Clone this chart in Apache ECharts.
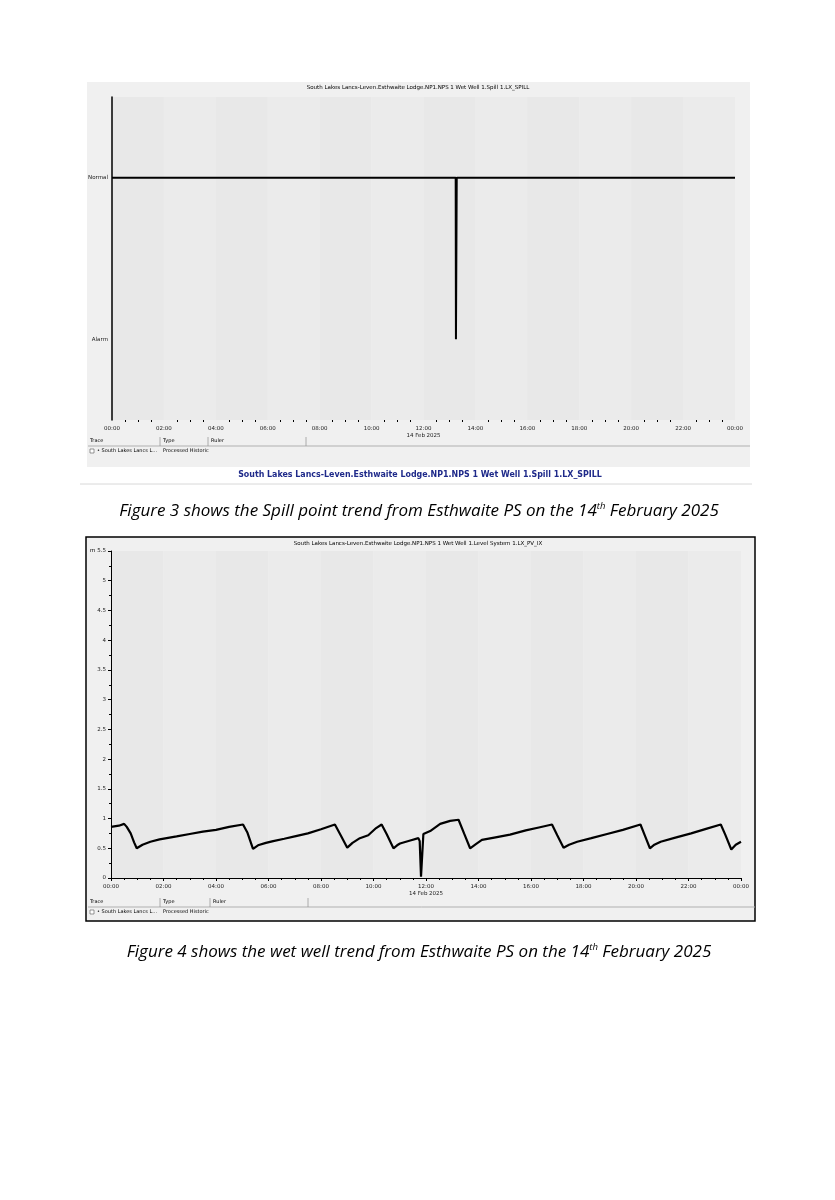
<!DOCTYPE html>
<html>
<head>
<meta charset="utf-8">
<script src="https://cdn.jsdelivr.net/npm/echarts@6/dist/echarts.min.js"></script>
<style>
  html, body { margin: 0; padding: 0; background: #fff; }
  #chart { width: 835px; height: 1200px; }
</style>
</head>
<body>
<div id="chart"></div>
<script>
// tick labels on the time axis (hours 0..24 every 2h)
const hourLabels = ['00:00', '02:00', '04:00', '06:00', '08:00', '10:00', '12:00',
                    '14:00', '16:00', '18:00', '20:00', '22:00', '00:00'];
const dateLabel = '14 Feb 2025';

// spill point states (hours, state)
const spillStates = ['Alarm', 'Normal'];
const spillTimes = [0, 13.24, 13.25, 13.27, 13.28, 24];
const spillValues = ['Normal', 'Normal', 'Alarm', 'Alarm', 'Normal', 'Normal'];

// wet well level (hours, m)
const levelTimes = [0, 0.3, 0.5, 0.6, 0.75, 0.88, 0.98, 1.2, 1.5, 1.85, 2.5, 3.0, 3.5, 4.0, 4.5, 5.03,
  5.2, 5.41, 5.6, 5.9, 6.18, 6.6, 7.0, 7.5, 8.0, 8.53,
  8.75, 9.0, 9.2, 9.48, 9.8, 10.1, 10.31,
  10.5, 10.76, 10.9, 11.01, 11.4, 11.71, 11.76, 11.81, 11.86, 11.9, 12.16, 12.54, 12.92, 13.24,
  13.45, 13.68, 13.9, 14.13, 14.6, 15.2, 15.8, 16.3, 16.8,
  17.0, 17.24, 17.45, 17.76, 18.3, 18.9, 19.5, 20.17,
  20.35, 20.53, 20.7, 20.94, 21.5, 22.1, 22.7, 23.23,
  23.4, 23.63, 23.8, 24];
const levelValues = [0.86, 0.88, 0.91, 0.86, 0.75, 0.6, 0.5, 0.56, 0.61, 0.65, 0.7, 0.74, 0.78, 0.81, 0.86, 0.9,
  0.76, 0.49, 0.55, 0.59, 0.62, 0.66, 0.7, 0.75, 0.82, 0.9,
  0.72, 0.51, 0.59, 0.67, 0.72, 0.84, 0.9,
  0.74, 0.5, 0.55, 0.58, 0.63, 0.67, 0.62, 0.02, 0.05, 0.74, 0.79, 0.91, 0.96, 0.98,
  0.75, 0.5, 0.57, 0.64, 0.68, 0.73, 0.8, 0.85, 0.9,
  0.72, 0.51, 0.56, 0.61, 0.67, 0.74, 0.81, 0.9,
  0.7, 0.5, 0.56, 0.61, 0.68, 0.75, 0.83, 0.9,
  0.73, 0.48, 0.56, 0.61];

const title3 = 'South Lakes Lancs-Leven.Esthwaite Lodge.NP1.NPS 1 Wet Well 1.Spill 1.LX_SPILL';
const title4 = 'South Lakes Lancs-Leven.Esthwaite Lodge.NP1.NPS 1 Wet Well 1.Level System 1.LX_PV_IX';

const chart = echarts.init(document.getElementById('chart'));

const tiny = { fontFamily: 'DejaVu Sans', fontSize: 5.5, color: '#222' };

function timeAxis(gridIndex) {
  return {
    type: 'value', gridIndex: gridIndex, min: 0, max: 24, interval: 2,
    axisLine: { lineStyle: { color: '#000', width: 1 } },
    axisTick: { length: 3, lineStyle: { color: '#000' } },
    minorTick: { show: true, splitNumber: 4, length: 2, lineStyle: { color: '#000' } },
    splitLine: { show: false },
    splitArea: { show: true, areaStyle: { color: ['#e8e8e8', '#ebebeb'] } },
    axisLabel: Object.assign({}, tiny, {
      margin: 5, lineHeight: 7,
      formatter: v => hourLabels[Math.round(v / 2)] + (v === 12 ? '\n' + dateLabel : '')
    })
  };
}

// table header of the trend viewer
function traceTable(y, seps, right) {
  const small = Object.assign({}, tiny, { fontSize: 5, verticalAlign: 'middle' });
  const els = [
    { type: 'line', shape: { x1: 88, y1: y + 5, x2: right, y2: y + 5 }, style: { stroke: '#b0b0b0', lineWidth: 1 } },
    { type: 'text', x: 90, y: y, style: Object.assign({ text: 'Trace' }, small) },
    { type: 'text', x: seps[0] + 3, y: y, style: Object.assign({ text: 'Type' }, small) },
    { type: 'text', x: seps[1] + 3, y: y, style: Object.assign({ text: 'Ruler' }, small) },
    { type: 'rect', shape: { x: 90, y: y + 8, width: 4, height: 4 }, style: { fill: '#fff', stroke: '#555', lineWidth: 0.6 } },
    { type: 'text', x: 97, y: y + 10, style: Object.assign({ text: '• South Lakes Lancs L...' }, small) },
    { type: 'text', x: seps[0] + 3, y: y + 10, style: Object.assign({ text: 'Processed Historic' }, small) }
  ];
  seps.forEach(sx => els.push({ type: 'line', shape: { x1: sx, y1: y - 4, x2: sx, y2: y + 5 }, style: { stroke: '#999', lineWidth: 0.8 } }));
  return els;
}

function caption(y, num, words) {
  return {
    type: 'text', x: 419, y: y,
    style: {
      text: '{a|Figure ' + num + ' shows the ' + words + ' from Esthwaite PS on the 14}{s|th}{a| February 2025}',
      align: 'center', verticalAlign: 'middle',
      rich: {
        a: { fontFamily: 'Open Sans', fontStyle: 'italic', fontSize: 17, fill: '#000' },
        s: { fontFamily: 'Open Sans', fontStyle: 'italic', fontSize: 9.5, fill: '#000', verticalAlign: 'top', padding: [0, 0, 9, 0] }
      }
    }
  };
}

const option = {
  backgroundColor: '#fff',
  animation: false,
  graphic: [
    // figure 3 panel
    { type: 'rect', z: -10, shape: { x: 87, y: 82, width: 663, height: 385 }, style: { fill: '#f0f0f0' } },
    { type: 'text', x: 418, y: 88, style: Object.assign({ text: title3, align: 'center', verticalAlign: 'middle' }, tiny) },
    ...traceTable(441, [160, 208, 306], 750),
    { type: 'text', x: 420, y: 475, style: { text: title3, align: 'center', verticalAlign: 'middle',
        fontFamily: 'DejaVu Sans Condensed', fontWeight: 'bold', fontSize: 8.8, fill: '#1f2a8a' } },
    { type: 'line', shape: { x1: 80, y1: 484, x2: 752, y2: 484 }, style: { stroke: '#d8d8d8', lineWidth: 1 } },
    caption(511, 3, 'Spill point trend'),
    // figure 4 panel
    { type: 'rect', z: -10, shape: { x: 86, y: 537, width: 669, height: 384 }, style: { fill: '#f0f0f0', stroke: '#000', lineWidth: 1.5 } },
    { type: 'text', x: 418, y: 544, style: Object.assign({ text: title4, align: 'center', verticalAlign: 'middle' }, tiny) },
    { type: 'text', x: 90, y: 551, style: Object.assign({ text: 'm', verticalAlign: 'middle' }, tiny) },
    ...traceTable(902, [160, 210, 308], 755),
    caption(952, 4, 'wet well trend')
  ],
  grid: [
    { left: 112, top: 97, width: 623, height: 323 },
    { left: 111, top: 551, width: 630, height: 327 }
  ],
  xAxis: [timeAxis(0), timeAxis(1)],
  yAxis: [
    {
      type: 'category', gridIndex: 0, data: spillStates,
      axisLine: { lineStyle: { color: '#000', width: 1.5 } },
      axisTick: { alignWithLabel: true, length: 3, lineStyle: { color: '#000' } },
      splitLine: { show: false },
      axisLabel: Object.assign({ margin: 4 }, tiny)
    },
    {
      type: 'value', gridIndex: 1, min: 0, max: 5.5, interval: 0.5,
      axisLine: { show: true, lineStyle: { color: '#000', width: 1 } },
      axisTick: { show: true, length: 3, lineStyle: { color: '#000' } },
      minorTick: { show: true, splitNumber: 2, length: 2, lineStyle: { color: '#000' } },
      splitLine: { show: false },
      axisLabel: Object.assign({ margin: 5 }, tiny)
    }
  ],
  series: [
    {
      type: 'line', xAxisIndex: 0, yAxisIndex: 0, symbol: 'none',
      lineStyle: { color: '#000', width: 2 },
      data: spillTimes.map((t, i) => [t, spillValues[i]])
    },
    {
      type: 'line', xAxisIndex: 1, yAxisIndex: 1, symbol: 'none',
      lineStyle: { color: '#000', width: 2.2 },
      data: levelTimes.map((t, i) => [t, levelValues[i]])
    }
  ]
};

chart.setOption(option);
</script>
</body>
</html>
